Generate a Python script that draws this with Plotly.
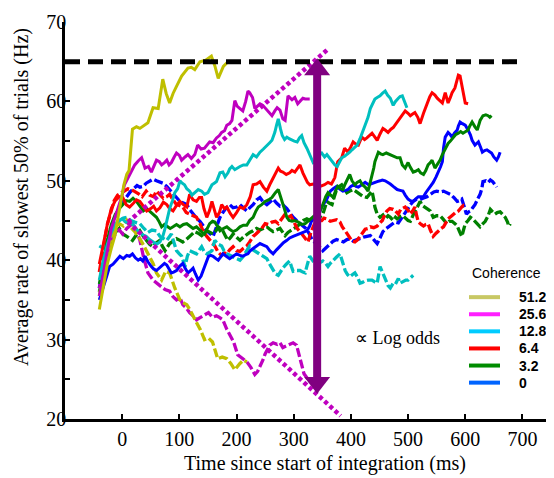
import plotly.graph_objects as go

# ---------------- data: (time ms, rate Hz) ----------------
coh_labels = ["51.2", "25.6", "12.8", "6.4", "3.2", "0"]
trace_colors = ["#bfbf00", "#bf00bf", "#00bfbf", "#ff0000", "#008000", "#0000ff"]
legend_colors = ["#c8c864", "#ff20ff", "#00ccff", "#ff0000", "#008c00", "#0064ff"]

c512_in = [(-40,33.8),(-33,36.5),(-26,39.5),(-19,41.5),(-13,43.0),(-7,45.5),(-2,47.8),(3,49.5),(8,50.8),(12,51.3),(18,56.5),(25,56.8),(31,56.6),(38,57.0),(45,57.3),(54,59.2),(63,59.1),(71,62.8),(77,61.0),(83,59.8),(89,61.0),(95,61.9),(104,63.2),(115,64.2),(121,64.3),(127,64.0),(136,65.0),(146,65.2),(156,65.7),(162,64.5),(168,62.9),(177,64.4),(185,65.0)]
c512_out = [(-40,35.5),(-33,38.5),(-26,41.0),(-19,42.8),(-12,44.2),(-5,44.6),(2,44.3),(8,45.0),(14,44.2),(22,43.6),(31,42.7),(38,41.8),(45,40.8),(54,39.6),(60,38.4),(69,37.5),(76,38.6),(83,38.4),(92,36.5),(101,35.0),(108,34.6),(113,34.4),(118,33.8),(124,33.0),(130,32.2),(137,31.2),(144,30.0),(151,30.2),(158,29.7),(167,27.6),(175,27.8),(183,27.6),(190,27.0),(197,26.2),(206,27.0),(212,27.4),(218,27.2)]

c256_in = [(-40,35.5),(-33,38.5),(-26,41.5),(-19,44.0),(-12,45.5),(-5,47.0),(0,48.2),(4,49.5),(10,50.4),(16,51.2),(22,52.0),(28,52.5),(34,52.9),(40,51.6),(46,51.8),(51,51.1),(56,51.9),(60,52.6),(65,52.4),(69,52.0),(74,52.3),(78,52.6),(82,52.0),(86,52.3),(91,53.0),(95,53.5),(100,53.2),(104,52.6),(110,53.0),(115,53.3),(121,52.8),(127,53.3),(132,54.5),(138,54.0),(144,54.1),(149,54.6),(153,54.9),(159,54.8),(165,55.4),(170,55.7),(174,56.1),(179,56.3),(183,57.0),(188,57.2),(192,57.6),(197,60.1),(201,59.4),(206,59.1),(211,58.8),(216,60.0),(220,61.3),(223,61.1),(228,60.5),(232,59.1),(237,59.5),(241,59.7),(246,59.5),(250,59.2),(256,58.7),(262,58.2),(267,58.8),(271,59.2),(276,58.9),(281,57.8),(285,57.6),(290,60.7),(297,60.2),(302,60.5),(307,59.7),(311,60.0),(316,60.4),(320,60.3),(328,60.3)]
c256_out = [(-40,36.5),(-33,39.0),(-26,41.0),(-19,42.5),(-12,43.3),(-5,43.8),(1,43.3),(8,44.0),(18,44.6),(25,43.8),(31,42.5),(37,40.5),(45,38.4),(54,37.5),(60,37.1),(66,36.8),(75,36.3),(83,36.1),(89,35.4),(95,35.0),(101,35.3),(106,34.4),(112,34.0),(118,33.4),(124,33.0),(130,32.5),(137,32.8),(144,33.1),(151,33.4),(158,32.8),(165,33.0),(170,32.8),(176,32.5),(183,31.3),(189,30.5),(195,29.7),(202,28.1),(210,27.6),(218,27.2),(225,26.5),(232,25.6),(237,26.0),(241,26.6),(246,27.4),(250,28.2),(254,28.8),(258,29.3),(264,29.6),(271,29.4),(276,29.6),(281,29.0),(287,29.2),(293,29.4),(299,29.6),(305,29.3),(310,28.0),(314,26.8),(318,25.7),(323,25.2),(328,24.7)]

c128_in = [(-40,37.5),(-33,40.0),(-26,42.0),(-19,43.5),(-12,44.5),(-5,45.0),(0,45.2),(6,44.8),(12,44.6),(18,44.6),(24,44.0),(30,43.5),(36,43.2),(42,43.0),(48,42.6),(55,42.2),(60,42.0),(66,42.3),(71,43.0),(75,44.0),(79,45.2),(83,46.5),(88,47.5),(92,48.5),(97,49.0),(101,50.0),(105,49.7),(109,49.5),(113,49.0),(118,48.7),(122,48.2),(127,48.5),(133,48.9),(139,48.7),(144,48.3),(150,48.5),(153,49.0),(157,49.5),(161,49.7),(165,49.9),(171,51.0),(176,51.1),(180,50.5),(185,51.0),(188,51.5),(192,51.8),(197,51.4),(201,51.6),(206,51.8),(212,52.0),(218,52.0),(223,52.6),(229,53.3),(235,53.0),(241,53.6),(247,54.0),(253,54.5),(258,54.8),(262,55.1),(265,55.6),(267,56.1),(270,57.0),(273,57.8),(277,56.5),(280,55.7),(284,55.2),(288,55.5),(292,55.3),(297,55.1),(301,55.0),(306,54.9),(310,55.4),(314,55.7),(318,54.8),(323,54.1),(328,53.3),(332,52.8),(334,52.3),(340,52.6),(345,53.3),(349,53.5),(354,53.0),(358,53.3),(363,52.8),(367,52.4),(372,52.0),(376,51.8),(380,52.4),(384,52.9),(389,53.1),(393,53.3),(398,53.6),(402,53.9),(407,54.2),(411,54.5),(416,55.3),(420,56.1),(425,57.2),(430,58.0),(434,59.1),(438,59.8),(442,60.3),(446,60.5),(451,60.7),(455,61.0),(460,61.3),(464,60.8),(469,60.4),(474,59.5),(478,60.0),(483,60.4),(486,60.6),(490,60.7),(494,60.0),(498,59.2)]
c128_out = [(-40,41.8),(-33,41.5),(-26,42.5),(-19,43.5),(-12,44.5),(-5,45.0),(2,45.3),(8,45.4),(15,45.0),(22,44.8),(31,44.6),(38,44.0),(45,43.5),(52,43.8),(60,43.7),(66,43.0),(72,42.7),(78,42.5),(86,43.3),(90,42.2),(95,41.2),(100,40.8),(104,40.5),(110,39.2),(114,40.5),(118,41.2),(124,41.0),(130,40.8),(135,41.3),(139,41.7),(144,41.0),(148,40.8),(153,41.0),(157,41.2),(162,42.5),(168,42.0),(174,41.8),(178,41.2),(183,40.8),(189,40.6),(194,40.5),(200,40.2),(206,40.0),(212,40.5),(218,41.3),(223,41.8),(229,41.3),(235,41.0),(241,40.8),(247,40.5),(253,40.2),(258,39.5),(264,38.7),(268,38.3),(273,38.1),(277,38.6),(281,39.0),(287,39.5),(293,39.9),(296,39.2),(299,38.6),(305,38.7),(311,38.7),(316,38.5),(320,38.4),(324,39.5),(328,40.5),(333,40.0),(338,39.5),(343,39.6),(347,39.8),(351,39.9),(356,39.6),(360,39.2),(364,39.6),(369,40.0),(375,40.4),(381,40.8),(385,39.8),(390,38.7),(394,38.2),(398,37.9),(403,38.2),(407,38.4),(412,37.8),(416,37.1),(420,37.2),(425,37.4),(431,37.5),(437,37.5),(441,37.3),(446,37.1),(451,39.2),(456,38.4),(460,37.6),(465,36.8),(469,36.5),(474,37.1),(478,37.0),(483,37.7),(486,37.1),(491,37.3),(496,37.5),(500,37.5),(505,37.8),(509,38.1)]

c64_in = [(-40,39.5),(-33,42.0),(-26,44.5),(-19,46.5),(-12,47.5),(-5,48.0),(1,47.9),(7,47.0),(13,46.7),(20,47.2),(25,47.6),(31,47.4),(37,46.8),(43,46.2),(50,46.5),(55,46.8),(60,46.2),(66,46.6),(72,47.3),(78,47.0),(83,46.5),(89,46.2),(95,46.9),(101,47.4),(107,47.0),(113,46.7),(118,48.3),(124,47.6),(130,47.4),(135,47.9),(139,47.9),(143,46.5),(148,45.4),(153,46.3),(157,47.4),(161,46.2),(165,45.4),(170,46.0),(174,47.0),(179,46.5),(183,46.7),(189,45.9),(194,45.4),(200,46.0),(206,46.7),(212,46.5),(218,47.0),(224,48.0),(229,49.5),(235,49.6),(241,49.9),(247,49.2),(253,48.7),(258,49.5),(264,50.4),(268,51.0),(273,51.6),(277,51.2),(281,51.1),(287,50.8),(293,51.0),(297,51.3),(302,51.1),(306,51.5),(311,52.0),(316,51.0),(320,50.4),(324,49.8),(328,49.5),(334,49.6),(340,49.4),(346,49.3),(354,49.5),(360,49.8),(366,49.6),(372,50.4),(377,52.4),(384,52.9),(389,54.1),(395,53.6),(400,54.3),(404,54.9),(409,54.6),(413,54.5),(419,55.5),(424,55.2),(428,55.4),(433,55.8),(437,56.0),(442,55.5),(446,55.1),(451,55.9),(456,56.6),(460,56.4),(465,56.1),(470,56.5),(474,56.7),(479,57.2),(483,57.6),(486,57.8),(491,58.3),(495,58.8),(500,58.5),(504,58.2),(508,58.4),(512,58.6),(517,58.0),(521,57.2),(527,58.5),(533,59.8),(538,60.6),(542,61.1),(547,60.8),(551,60.4),(556,60.0),(560,59.8),(565,61.1),(570,59.8),(574,60.5),(577,61.1),(582,61.7),(585,62.6),(588,63.3),(591,63.2),(594,62.2),(597,61.0),(600,59.8),(605,59.7)]
c64_out = [(-40,38.5),(-33,41.5),(-26,44.5),(-20,46.0),(-14,47.5),(-8,48.2),(-2,48.5),(4,48.8),(10,49.0),(16,48.9),(22,48.7),(28,48.4),(35,48.0),(42,48.7),(48,48.2),(55,48.0),(60,48.7),(66,48.3),(72,47.8),(78,48.0),(83,48.3),(89,47.6),(95,47.0),(100,46.9),(106,46.7),(112,46.0),(118,45.8),(124,45.6),(130,45.4),(136,44.6),(142,43.6),(148,43.0),(155,42.4),(162,41.8),(168,41.0),(174,40.6),(179,40.9),(183,40.8),(188,41.3),(194,41.7),(200,41.2),(206,41.1),(212,41.5),(218,41.8),(223,42.3),(229,43.0),(234,43.3),(238,43.6),(244,44.0),(250,44.6),(256,44.5),(262,44.8),(268,44.9),(273,44.6),(279,45.2),(285,45.8),(290,45.4),(295,45.6),(302,44.6),(306,44.0),(311,43.6),(316,43.1),(320,42.7),(325,42.3),(330,43.5),(336,44.5),(342,45.0),(349,45.0),(353,45.3),(358,45.2),(364,44.9),(369,45.0),(375,45.1),(381,44.8),(385,44.2),(390,43.7),(394,43.2),(398,42.7),(402,42.4),(407,42.3),(412,42.6),(416,43.0),(421,43.5),(425,43.9),(430,44.0),(434,44.2),(440,44.1),(446,44.3),(451,44.7),(455,45.0),(459,45.7),(463,46.2),(468,46.5),(474,46.4),(478,46.2),(483,45.8),(487,46.4),(491,46.6),(495,46.7),(500,46.3),(504,45.8),(508,46.2),(512,46.7),(515,45.6),(518,44.8),(523,44.5),(527,44.3),(531,44.5),(535,44.6),(539,43.8),(544,43.0),(549,43.4),(553,43.7),(558,44.0),(562,44.2),(566,44.8),(570,45.2),(575,45.5),(579,45.8),(583,46.0),(588,46.2),(591,46.5),(594,46.7),(597,46.9),(600,46.8)]

c32_in = [(-40,37.0),(-33,40.0),(-26,42.5),(-19,44.5),(-12,45.8),(-5,46.5),(1,47.0),(7,47.5),(13,47.4),(19,47.8),(25,47.4),(31,46.8),(37,46.2),(43,46.5),(48,46.2),(54,45.8),(60,45.4),(65,44.8),(69,44.2),(74,44.5),(78,44.3),(84,44.0),(89,44.2),(95,44.5),(101,44.2),(107,44.5),(113,44.6),(118,44.3),(124,44.0),(130,44.2),(136,43.7),(140,43.5),(144,43.3),(149,44.0),(153,44.6),(158,44.9),(162,44.8),(167,44.2),(171,43.7),(177,44.0),(183,44.2),(188,43.9),(194,43.6),(200,43.8),(206,44.2),(212,44.4),(218,44.4),(223,45.0),(229,45.4),(234,46.2),(238,46.7),(244,47.0),(250,47.4),(256,47.6),(262,47.9),(268,48.5),(273,48.9),(277,48.0),(280,47.4),(284,46.4),(288,45.4),(292,45.0),(297,44.9),(302,45.0),(308,44.8),(314,44.5),(320,44.6),(325,44.9),(330,45.2),(338,45.8),(346,46.2),(351,47.0),(356,48.0),(360,48.5),(365,48.2),(369,47.9),(373,48.7),(377,49.3),(382,49.0),(386,48.9),(390,49.6),(394,50.2),(398,50.8),(402,50.0),(407,49.5),(411,49.8),(416,50.0),(420,49.5),(425,49.2),(430,48.7),(434,49.8),(437,50.8),(440,51.6),(442,52.4),(445,53.0),(448,53.6),(452,53.4),(456,53.3),(462,53.5),(469,53.3),(473,53.2),(477,53.0),(481,52.9),(486,52.9),(490,52.0),(495,51.6),(500,52.3),(504,51.7),(509,51.1),(513,51.2),(518,51.4),(522,51.0),(527,50.8),(531,51.3),(535,52.0),(539,52.3),(542,52.6),(547,51.6),(551,52.0),(556,52.6),(560,53.3),(565,54.1),(570,54.7),(574,55.0),(579,55.5),(583,55.8),(588,56.0),(592,56.2),(596,56.0),(600,56.2),(605,56.4),(608,56.9),(612,57.4),(617,56.8),(621,56.4),(626,57.6),(631,58.2),(636,58.3),(640,58.2),(643,58.0),(646,58.2)]
c32_out = [(-40,36.0),(-33,38.5),(-26,40.5),(-19,42.0),(-12,43.5),(-5,44.0),(1,43.3),(8,43.0),(13,42.8),(18,42.5),(25,43.2),(31,43.7),(37,43.0),(42,42.5),(48,42.0),(54,41.7),(60,42.2),(66,42.5),(70,41.8),(75,41.2),(79,41.6),(83,42.1),(89,42.4),(95,42.7),(101,42.5),(106,42.3),(112,42.6),(118,43.0),(122,43.3),(127,43.6),(133,43.4),(139,43.1),(144,43.4),(148,43.7),(154,43.5),(159,43.3),(164,43.7),(168,44.2),(172,44.0),(176,43.7),(181,43.0),(185,42.5),(190,42.9),(194,43.3),(200,42.9),(206,42.5),(212,42.9),(218,43.3),(223,43.5),(229,43.7),(235,44.0),(241,43.8),(247,44.0),(253,44.2),(258,43.9),(264,43.6),(270,43.8),(276,44.0),(280,43.6),(285,43.1),(290,43.5),(296,43.8),(302,44.0),(307,44.3),(311,44.6),(317,45.0),(323,45.2),(328,45.0),(331,44.9),(340,45.2),(347,45.5),(351,45.8),(355,46.8),(358,47.4),(362,47.2),(367,47.0),(371,48.0),(376,49.1),(380,49.3),(384,49.5),(389,49.0),(393,48.5),(398,48.7),(404,48.9),(410,48.6),(416,48.3),(422,48.0),(428,47.9),(433,48.3),(437,48.7),(440,47.6),(442,46.7),(446,45.8),(451,45.4),(456,45.7),(460,45.2),(465,45.6),(469,45.4),(474,45.0),(478,45.4),(481,45.2),(486,45.5),(491,45.6),(495,45.3),(500,45.0),(504,44.9),(508,45.6),(512,46.2),(517,46.8),(521,47.4),(525,46.9),(530,46.7),(535,46.4),(539,46.2),(544,45.4),(550,45.6),(556,45.6),(561,45.2),(568,44.6),(572,44.9),(577,44.9),(582,44.6),(586,44.3),(590,43.6),(594,43.0),(597,43.8),(600,44.6),(605,45.0),(609,45.4),(613,45.2),(617,44.9),(622,44.5),(626,44.2),(631,44.6),(635,44.9),(640,45.6),(644,46.4),(648,46.1),(652,45.8),(656,46.0),(661,46.1),(665,45.8),(670,45.4),(674,44.8),(676,44.3),(679,44.6)]

c0_in = [(-40,35.0),(-33,36.8),(-27,38.0),(-22,39.2),(-16,39.5),(-10,40.0),(-4,40.5),(2,40.2),(8,40.6),(13,40.5),(18,40.8),(23,40.3),(28,40.0),(32,40.2),(36,39.9),(40,40.5),(45,39.8),(51,39.2),(55,38.9),(60,38.7),(65,39.0),(69,39.2),(74,39.6),(78,39.4),(82,38.9),(86,38.4),(90,38.5),(95,38.7),(100,39.2),(106,39.6),(110,39.0),(115,38.4),(120,38.7),(124,39.0),(128,38.3),(133,37.5),(138,38.0),(142,38.7),(146,39.5),(151,40.5),(155,40.6),(159,40.5),(164,40.2),(168,40.0),(172,40.4),(176,40.8),(182,40.5),(188,40.2),(194,40.5),(200,40.8),(206,40.6),(211,40.5),(216,40.7),(220,40.8),(224,41.2),(229,41.5),(235,41.8),(241,42.1),(247,41.9),(253,41.7),(258,41.2),(264,40.8),(270,41.3),(276,41.8),(282,42.2),(288,42.5),(293,42.8),(299,43.0),(305,43.2),(311,43.3),(317,43.5),(323,43.7),(328,44.3),(331,44.9),(338,45.5),(345,46.0),(349,46.7),(354,47.2),(358,47.7),(361,48.2),(364,48.7),(369,49.0),(375,49.3),(380,49.0),(386,48.7),(391,48.8),(395,48.9),(400,49.3),(405,49.5),(409,49.3),(413,49.2),(419,49.5),(425,49.8),(431,49.5),(437,49.7),(441,49.8),(446,49.9),(451,50.0),(455,50.1),(460,50.0),(465,49.8),(469,49.6),(474,49.3),(478,49.1),(481,48.9),(486,48.8),(491,48.7),(495,48.2),(500,47.7),(504,47.5),(509,47.4),(513,47.7),(518,48.0),(522,48.0),(527,48.0),(531,48.5),(535,48.9),(540,49.3),(544,49.8),(549,50.5),(553,51.1),(557,51.8),(560,52.4),(562,54.1),(565,55.5),(568,55.8),(570,56.1),(574,55.8),(577,55.5),(581,56.0),(586,56.4),(588,56.9),(591,57.4),(595,57.2),(600,57.0),(605,56.4),(609,55.8),(612,55.1),(617,54.5),(620,54.7),(623,54.9),(627,54.2),(630,53.6),(634,53.8),(638,53.9),(642,53.7),(646,53.5),(650,53.0),(655,52.6),(658,53.0),(661,53.6)]
c0_out = [(-40,36.5),(-33,39.5),(-26,42.0),(-19,44.0),(-12,45.5),(-5,46.5),(2,47.5),(8,48.0),(14,48.6),(20,49.0),(26,49.4),(31,49.2),(37,49.3),(42,49.7),(48,50.0),(54,50.2),(60,50.0),(66,49.8),(71,49.7),(78,49.3),(84,48.8),(89,48.3),(95,47.8),(101,47.4),(107,47.2),(113,47.0),(118,46.4),(124,45.8),(130,45.3),(136,44.9),(142,44.3),(148,43.7),(153,43.4),(159,43.0),(163,43.8),(167,44.6),(171,45.4),(176,46.0),(182,46.6),(188,47.0),(194,46.6),(200,46.7),(206,47.0),(212,46.6),(218,46.2),(223,46.6),(229,47.0),(235,47.6),(241,47.9),(247,47.3),(253,47.0),(258,47.3),(264,47.7),(270,47.2),(276,46.8),(282,46.9),(288,46.5),(293,46.0),(299,45.4),(305,45.0),(311,44.6),(317,44.3),(323,43.9),(328,43.2),(332,42.6),(340,42.0),(347,41.6),(351,41.2),(357,41.6),(363,42.1),(369,42.4),(375,42.6),(381,42.5),(387,42.3),(393,42.6),(398,42.7),(404,42.4),(410,42.6),(416,42.8),(422,42.9),(428,43.0),(434,43.1),(440,42.6),(446,42.1),(451,42.8),(456,43.6),(462,44.0),(467,44.3),(472,44.6),(477,44.8),(483,44.7),(488,45.2),(494,45.8),(499,46.4),(504,47.0),(509,47.4),(515,47.7),(520,47.6),(526,47.8),(533,48.0),(539,48.3),(545,48.6),(550,48.7),(556,48.6),(562,48.7),(568,48.5),(574,48.3),(580,47.9),(586,47.4),(590,47.5),(594,47.7),(598,46.8),(602,45.8),(606,46.1),(609,46.2),(613,46.6),(617,47.0),(621,47.6),(626,48.3),(629,49.0),(631,49.9),(636,50.0),(640,49.8),(644,50.1),(648,49.9),(652,49.5),(655,49.2)]

# model guide lines (magenta dotted), bound (black dashed), log-odds arrow
guide_up_t = [10, 362]
guide_up_r = [44.8, 66.7]
guide_dn_t = [10, 382]
guide_dn_r = [44.8, 20.4]
bound_t = [-100, 692]
bound_r = [65, 65]
arrow_t = 341
arrow_top = 65.4
arrow_bottom = 23.2

x_ticks = [0, 100, 200, 300, 400, 500, 600, 700]
y_ticks = [20, 30, 40, 50, 60, 70]
y_minor = [25, 35, 45, 55, 65]

# ---------------- figure ----------------
OFF = 8  # default page body margin around the plot div
W, H = 554 - OFF, 478 - OFF
M = dict(l=65 - OFF, r=3, t=15 - OFF, b=59)
plot_w = W - M["l"] - M["r"]
plot_h = H - M["t"] - M["b"]
px_per_hz = plot_h / (70 - 20)


def paper_x(px):
    return (px - OFF - M["l"]) / plot_w


def paper_y(py):
    return (H - M["b"] - (py - OFF)) / plot_h


serif = "Liberation Serif, Times New Roman, serif"
sans = "Liberation Sans, Arial, sans-serif"

series_in = [c512_in, c256_in, c128_in, c64_in, c32_in, c0_in]
series_out = [c512_out, c256_out, c128_out, c64_out, c32_out, c0_out]

fig = go.Figure()
order = [5, 4, 3, 2, 1, 0]
for i in order:
    t, r = zip(*series_out[i])
    fig.add_trace(go.Scatter(x=t, y=r, mode="lines", name=coh_labels[i] + " (dashed)",
                             showlegend=False, hoverinfo="skip",
                             line=dict(color=trace_colors[i], width=3.3, dash="9px,3px")))
for i in order:
    t, r = zip(*series_in[i])
    fig.add_trace(go.Scatter(x=t, y=r, mode="lines", name=coh_labels[i],
                             showlegend=False, hoverinfo="skip",
                             line=dict(color=trace_colors[i], width=3)))

for gt, gr in [(guide_up_t, guide_up_r), (guide_dn_t, guide_dn_r)]:
    fig.add_trace(go.Scatter(x=gt, y=gr, mode="lines", showlegend=False, hoverinfo="skip",
                             line=dict(color="#bf00bf", width=4.5, dash="4px,3px")))

fig.add_trace(go.Scatter(x=bound_t, y=bound_r, mode="lines", showlegend=False, hoverinfo="skip",
                         line=dict(color="black", width=5, dash="15px,8px")))

# double-headed arrow
head_size = 22.5
head_off = (head_size / 2) / px_per_hz
fig.add_trace(go.Scatter(x=[arrow_t, arrow_t], y=[arrow_top - head_off, arrow_bottom + head_off],
                         mode="lines+markers", showlegend=False, hoverinfo="skip",
                         line=dict(color="#800080", width=8),
                         marker=dict(symbol=["triangle-up", "triangle-down"], size=head_size,
                                     color="#800080", line=dict(width=0))))

# legend (drawn as swatches + labels, to match the compact row spacing)
leg_title_y = 270
leg_row0_y = 295
leg_row_gap = 17.4
leg_line_x0, leg_line_x1, leg_text_x = 469, 500, 517
fig.add_annotation(x=paper_x(506), y=paper_y(leg_title_y), xref="paper", yref="paper",
                   text="Coherence", showarrow=False, xanchor="center", yanchor="middle",
                   font=dict(family=sans, size=14, color="black"))
for k, (lab, col) in enumerate(zip(coh_labels, legend_colors)):
    ry = paper_y(leg_row0_y + k * leg_row_gap)
    fig.add_shape(type="line", xref="paper", yref="paper",
                  x0=paper_x(leg_line_x0), x1=paper_x(leg_line_x1), y0=ry, y1=ry,
                  line=dict(color=col, width=4))
    fig.add_annotation(x=paper_x(leg_text_x), y=ry, xref="paper", yref="paper", text=lab,
                       showarrow=False, xanchor="left", yanchor="middle",
                       font=dict(family=sans, size=14, color="black", weight="bold"))

fig.add_annotation(x=482, y=30.15, xref="x", yref="y", text="\u221d Log odds", showarrow=False,
                   xanchor="center", yanchor="middle",
                   font=dict(family=serif, size=18, color="black"))
fig.add_annotation(x=paper_x(325), y=paper_y(464), xref="paper", yref="paper",
                   text="Time since start of integration (ms)", showarrow=False,
                   xanchor="center", yanchor="middle",
                   font=dict(family=serif, size=20, color="black"))
fig.add_annotation(x=paper_x(22), y=paper_y(193), xref="paper", yref="paper",
                   text="Average rate of slowest 50% of trials (Hz)", textangle=-90, showarrow=False,
                   xanchor="center", yanchor="middle",
                   font=dict(family=serif, size=20, color="black"))

fig.update_layout(
    width=W, height=H, margin=M, paper_bgcolor="white", plot_bgcolor="white",
    showlegend=False,
    xaxis=dict(range=[-100, 750], tickvals=x_ticks, ticks="inside", ticklen=5, tickwidth=2,
               tickcolor="black", showline=True, linecolor="black", linewidth=2.5,
               showgrid=False, zeroline=False, ticklabeloverflow="allow",
               tickfont=dict(family=serif, size=20, color="black")),
    yaxis=dict(range=[20, 70], tickvals=y_ticks, ticks="inside", ticklen=5, tickwidth=2,
               tickcolor="black", showline=True, linecolor="black", linewidth=2.5,
               showgrid=False, zeroline=False, ticklabelstandoff=-8, ticklabeloverflow="allow",
               minor=dict(tickvals=y_minor, ticks="inside", ticklen=5, tickwidth=2, tickcolor="black"),
               tickfont=dict(family=serif, size=20, color="black")),
)

fig.write_html("out.html")
